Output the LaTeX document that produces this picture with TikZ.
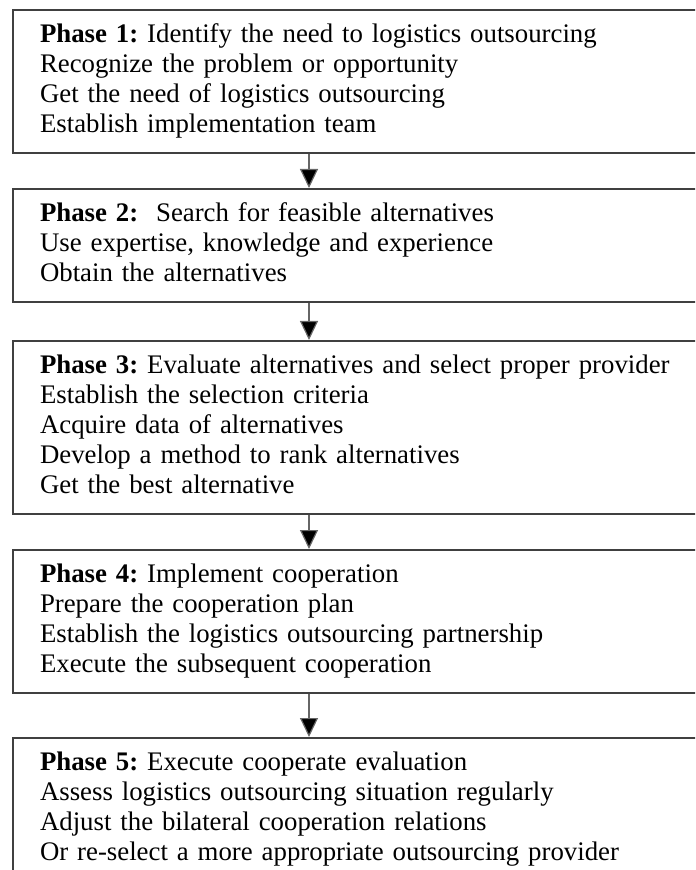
\documentclass[tikz,border=0pt]{standalone}
\usepackage{fontspec}
\setmainfont{Liberation Serif}
\usetikzlibrary{positioning,arrows.meta}
\frenchspacing
\tikzset{
	phasebox/.style={draw=black!75,line width=1pt,align=left,text width=322pt,
		inner xsep=13.5pt,inner ysep=5.75pt,font=\fontsize{13.4}{15}\selectfont},
	flow/.style={draw=black!60,line width=0.6pt,-{Triangle[width=9pt,length=9.5pt,fill=black]}}
}

\begin{document}
\begin{tikzpicture}[x=0.5pt,y=0.5pt]
			\useasboundingbox (0,0) rectangle (695,-870);
			\clip (0,0) rectangle (695,-870);
			\coordinate (spine) at (309,0);
			% phase 1
			\node[phasebox,anchor=north west] (phaseA) at (12,-9)
				{\strut\textbf{Phase 1:} Identify the need to logistics outsourcing\\
				Recognize the problem or opportunity\\
				Get the need of logistics outsourcing\\
				Establish implementation team\strut};
			% phase 2
			\node[phasebox,below=17pt of phaseA] (phaseB)
				{\strut\textbf{Phase 2:}\ \ Search for feasible alternatives\\
				Use expertise, knowledge and experience\\
				Obtain the alternatives\strut};
			% phase 3
			\node[phasebox,below=18.5pt of phaseB] (phaseC)
				{\strut\textbf{Phase 3:} Evaluate alternatives and select proper provider\\
				Establish the selection criteria\\
				Acquire data of alternatives\\
				Develop a method to rank alternatives\\
				Get the best alternative\strut};
			% phase 4
			\node[phasebox,below=17pt of phaseC] (phaseD)
				{\strut\textbf{Phase 4:} Implement cooperation\\
				Prepare the cooperation plan\\
				Establish the logistics outsourcing partnership\\
				Execute the subsequent cooperation\strut};
			% phase 5
			\node[phasebox,below=21.5pt of phaseD] (phaseE)
				{\strut\textbf{Phase 5:} Execute cooperate evaluation\\
				Assess logistics outsourcing situation regularly\\
				Adjust the bilateral cooperation relations\\
				Or re-select a more appropriate outsourcing provider\strut};
			% arrows
			\draw[flow] (phaseA.south -| spine) -- (phaseB.north -| spine);
			\draw[flow] (phaseB.south -| spine) -- (phaseC.north -| spine);
			\draw[flow] (phaseC.south -| spine) -- (phaseD.north -| spine);
			\draw[flow] (phaseD.south -| spine) -- (phaseE.north -| spine);
		\end{tikzpicture}
\end{document}
